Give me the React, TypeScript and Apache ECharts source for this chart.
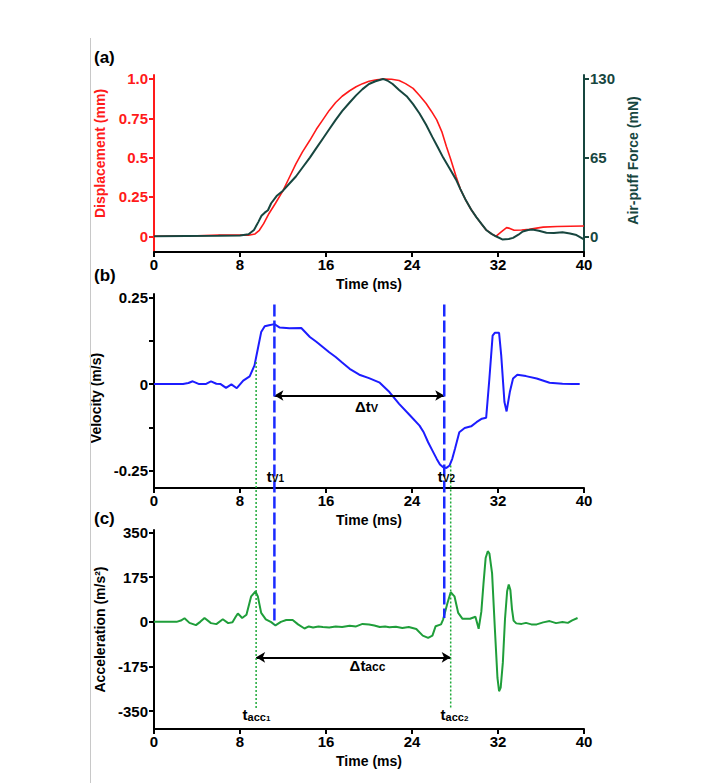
import React, { useEffect, useRef } from 'react';
import * as echarts from 'echarts';

// ---------- data (time in ms) ----------
const timeTicks = [0, 8, 16, 24, 32, 40];

const dispT = [0, 4, 6, 8, 8.8, 9.4, 9.8, 10.2, 10.7, 11.3, 12.0, 12.6, 13.2, 13.8, 14.5, 15.1, 15.7, 16.3, 16.9, 17.5, 18.2, 18.8, 19.4, 20.0, 20.7, 21.4, 22.1, 22.8, 23.4, 24.1, 24.7, 25.3, 25.8, 26.3, 26.8, 27.2, 27.6, 28.1, 28.5, 29.0, 29.5, 30.0, 30.5, 30.9, 31.4, 31.8, 32.3, 32.8, 33.1, 33.5, 34.2, 34.9, 35.6, 36.2, 37.5, 38.7, 40.0];
const dispMm = [0, 0.003, 0.008, 0.007, 0.006, 0.015, 0.038, 0.08, 0.145, 0.21, 0.29, 0.375, 0.46, 0.535, 0.61, 0.68, 0.74, 0.8, 0.85, 0.89, 0.925, 0.95, 0.97, 0.985, 0.995, 1.0, 0.998, 0.99, 0.97, 0.94, 0.895, 0.845, 0.795, 0.74, 0.66, 0.57, 0.49, 0.38, 0.3, 0.23, 0.17, 0.12, 0.075, 0.04, 0.015, 0.0, 0.028, 0.055, 0.05, 0.038, 0.04, 0.045, 0.052, 0.058, 0.062, 0.064, 0.065];

const forceT = [0, 3, 6, 8, 8.8, 9.3, 9.7, 10.0, 10.3, 10.6, 10.9, 11.4, 12.0, 12.6, 13.2, 13.8, 14.5, 15.1, 15.7, 16.3, 16.9, 17.5, 18.2, 18.8, 19.4, 20.0, 20.6, 21.3, 21.7, 22.2, 22.8, 23.5, 24.1, 24.7, 25.3, 25.9, 26.4, 26.9, 27.5, 28.1, 28.5, 29.0, 29.5, 30.0, 30.5, 30.9, 31.4, 31.8, 32.4, 33.0, 33.4, 33.9, 34.3, 34.8, 35.2, 35.8, 36.5, 37.2, 38.0, 38.7, 39.3, 40.0];
const forceMN = [0, 0.3, 0.4, 0.7, 1.6, 5.2, 11.7, 16.9, 19.5, 21.5, 27.3, 33.2, 37.7, 43.6, 49.4, 56.6, 65, 72.8, 80.6, 88.4, 96.2, 103.4, 110.5, 116.4, 121.6, 125.8, 128.1, 130, 128.7, 125.8, 120.9, 115.7, 109.2, 101.4, 92.3, 81.9, 73.5, 65, 55.9, 46.8, 39, 29.9, 22.1, 15.6, 9.8, 5.2, 2, 0, -2.6, -2.3, -1.3, 1.3, 3.9, 5.2, 5.6, 4.6, 2.9, 2.6, 3.3, 2.3, 1, -2.6];

const velT = [0, 2.7, 3.2, 3.6, 4.2, 4.8, 5.3, 5.8, 6.2, 6.7, 7.2, 7.7, 8.3, 8.9, 9.35, 9.66, 9.97, 10.3, 10.7, 11.2, 11.7, 12.6, 13.7, 14.5, 15.1, 15.7, 16.3, 16.9, 17.5, 18.2, 19.1, 20.0, 21.0, 21.9, 22.8, 23.8, 24.7, 25.1, 25.5, 25.9, 26.3, 26.6, 26.9, 27.2, 27.5, 27.75, 28.0, 28.4, 28.9, 29.5, 30.0, 30.5, 30.9, 31.2, 31.5, 31.7, 32.1, 32.3, 32.6, 32.8, 33.1, 33.4, 33.8, 34.6, 35.6, 36.8, 38.0, 38.9, 39.6];
const velMs = [0, 0, 0.003, 0.008, 0, 0, 0.008, 0.001, 0, -0.011, -0.001, -0.012, 0.01, 0.022, 0.054, 0.102, 0.15, 0.167, 0.17, 0.173, 0.163, 0.161, 0.162, 0.136, 0.122, 0.107, 0.092, 0.078, 0.062, 0.044, 0.027, 0.017, 0.004, -0.023, -0.057, -0.09, -0.12, -0.14, -0.168, -0.192, -0.216, -0.232, -0.24, -0.242, -0.235, -0.215, -0.187, -0.139, -0.127, -0.122, -0.11, -0.1, -0.097, 0.016, 0.14, 0.148, 0.148, 0.083, -0.052, -0.079, -0.023, 0.016, 0.027, 0.023, 0.016, 0.004, 0.001, 0, 0];

const accT = [0, 2.1, 2.5, 2.84, 3.3, 3.9, 4.3, 4.7, 5.3, 5.8, 6.4, 6.9, 7.3, 7.6, 7.8, 8.2, 8.6, 9.04, 9.44, 9.66, 9.97, 10.4, 10.9, 11.3, 11.8, 12.3, 12.9, 13.4, 14.0, 14.4, 14.8, 15.3, 15.7, 16.3, 16.9, 17.5, 18.2, 18.8, 19.4, 20.0, 20.5, 21.0, 21.5, 21.9, 22.5, 23.1, 23.7, 24.4, 25.0, 25.5, 25.9, 26.2, 26.7, 26.9, 27.3, 27.6, 27.95, 28.3, 28.7, 29.4, 29.9, 30.2, 30.45, 30.65, 30.85, 31.05, 31.2, 31.45, 31.7, 31.95, 32.1, 32.25, 32.45, 32.65, 32.85, 33.0, 33.15, 33.3, 33.45, 33.7, 34.2, 34.6, 35.1, 35.6, 36.2, 36.8, 37.4, 38.0, 38.5, 38.9, 39.4];
const accMs2 = [0, 0, 5, 14, -4, -13, 0, 15, -5, -9, 10, -5, -2, 20, 33, 15, 28, 100, 119, 100, 35, 10, -1, -14, 0, 7, 7, -10, -26, -18, -22, -18, -20, -22, -18, -20, -15, -18, -8, -10, -14, -20, -18, -21, -19, -24, -20, -28, -54, -63, -54, -17, -10, 10, 74, 116, 100, 35, 12, 12, 20, -27, 40, 150, 250, 277, 268, 190, -20, -220, -272, -258, -160, 10, 120, 146, 125, 50, 5, -6, -8, -4, -10, -10, -2, 3, -5, -1, -4, 6, 15];

// annotation times
const tV = [11.2, 27.0];
const tAcc = [9.5, 27.6];
const tVLineTopVel = 0.23;
const tVLineEndAcc = [-11, 15];
const tAccLineTopVel = [0.064, -0.235];
const tAccLineEndAcc = -342;
const dtVArrowVel = -0.033;
const dtAccArrowAcc = -139;

// tick values
const dispTicks = [0, 0.25, 0.5, 0.75, 1];
const forceTicks = [0, 65, 130];
const velTicks = [-0.25, -0.125, 0, 0.125, 0.25];
const velLabels = [-0.25, 0, 0.25];
const accTicks = [-350, -175, 0, 175, 350];

const RED = '#ff1a1a';
const TEAL = '#17463f';
const BLUE = '#1c1cff';
const GREEN = '#1f9e3a';
const FONT = '"Liberation Sans", Arial, Helvetica, sans-serif';

const zip = (t: number[], v: number[]) => t.map((x, i) => [x, v[i]]);

function xAxisCfg(gi: number) {
  return {
    gridIndex: gi,
    type: 'value',
    position: 'bottom',
    min: timeTicks[0],
    max: timeTicks[timeTicks.length - 1],
    interval: 8,
    axisLine: { show: true, onZero: false, lineStyle: { color: '#000', width: 2 } },
    axisTick: { show: true, length: 5, lineStyle: { color: '#000', width: 2 } },
    axisLabel: { color: '#000', fontSize: 15, fontWeight: 'bold', fontFamily: FONT, margin: 5 },
    splitLine: { show: false },
    name: 'Time (ms)',
    nameLocation: 'middle',
    nameGap: 25,
    nameTextStyle: { color: '#000', fontSize: 14, fontWeight: 'bold', fontFamily: FONT },
  };
}

function yAxisCfg(opts: any) {
  const { gi, min, max, ticks, labels, color, name, gap, position, fmt, pad } = opts;
  return {
    gridIndex: gi,
    type: 'value',
    position,
    min,
    max,
    axisLine: { show: true, onZero: false, lineStyle: { color, width: 2 } },
    axisTick: { show: true, length: 5, customValues: ticks, lineStyle: { color, width: 2 } },
    axisLabel: {
      customValues: labels,
      color,
      fontSize: 15,
      fontWeight: 'bold',
      fontFamily: FONT,
      margin: 6,
      formatter: fmt,
    },
    splitLine: { show: false },
    name,
    nameLocation: 'middle',
    nameGap: gap,
    nameRotate: 90,
    nameTextStyle: { color, fontSize: 14, fontWeight: 'bold', fontFamily: FONT, padding: pad },
  };
}

const option: any = {
  animation: false,
  backgroundColor: '#fff',
  grid: [
    { left: 154, width: 430, top: 75, height: 177 },
    { left: 154, width: 430, top: 294, height: 194 },
    { left: 154, width: 430, top: 530, height: 199 },
  ],
  xAxis: [xAxisCfg(0), xAxisCfg(1), xAxisCfg(2)],
  yAxis: [
    yAxisCfg({ gi: 0, min: -0.1, max: 1.025, ticks: dispTicks, labels: dispTicks, color: RED, name: 'Displacement (mm)', gap: 47, position: 'left', fmt: (v: number) => (v === 1 ? '1.0' : String(v)), pad: [0, 0, 0, 20] }),
    yAxisCfg({ gi: 0, min: -13, max: 133.25, ticks: forceTicks, labels: forceTicks, color: TEAL, name: 'Air-puff Force (mN)', gap: 38, position: 'right', fmt: (v: number) => String(v), pad: [0, 0, 0, 6] }),
    yAxisCfg({ gi: 1, min: -0.3, max: 0.26, ticks: velTicks, labels: velLabels, color: '#000', name: 'Velocity (m/s)', gap: 45, position: 'left', fmt: (v: number) => String(v), pad: [0, 14, 0, 0] }),
    yAxisCfg({ gi: 2, min: -420, max: 360, ticks: accTicks, labels: accTicks, color: '#000', name: 'Acceleration (m/s²)', gap: 45, position: 'left', fmt: (v: number) => String(v), pad: [0, 0, 0, 0] }),
  ],
  series: [
    {
      type: 'line', xAxisIndex: 0, yAxisIndex: 0, showSymbol: false, symbol: 'none',
      lineStyle: { color: RED, width: 1.6 }, data: zip(dispT, dispMm), z: 2,
    },
    {
      type: 'line', xAxisIndex: 0, yAxisIndex: 1, showSymbol: false, symbol: 'none',
      lineStyle: { color: TEAL, width: 2 }, data: zip(forceT, forceMN), z: 3,
    },
    {
      type: 'line', xAxisIndex: 1, yAxisIndex: 2, showSymbol: false, symbol: 'none',
      lineStyle: { color: BLUE, width: 2 }, data: zip(velT, velMs),
      markLine: {
        silent: true, symbol: ['arrow', 'arrow'], symbolSize: [8, 9],
        label: { show: false }, lineStyle: { color: '#000', width: 2, type: 'solid' },
        emphasis: { disabled: true },
        data: [[{ coord: [tV[0], dtVArrowVel] }, { coord: [tV[1], dtVArrowVel] }]],
      },
    },
    {
      type: 'line', xAxisIndex: 2, yAxisIndex: 3, showSymbol: false, symbol: 'none',
      lineStyle: { color: GREEN, width: 2 }, data: zip(accT, accMs2),
      markLine: {
        silent: true, symbol: ['arrow', 'arrow'], symbolSize: [8, 9],
        label: { show: false }, lineStyle: { color: '#000', width: 2, type: 'solid' },
        emphasis: { disabled: true },
        data: [[{ coord: [tAcc[0], dtAccArrowAcc] }, { coord: [tAcc[1], dtAccArrowAcc] }]],
      },
    },
  ],
};

function richLabel(x: number, y: number, parts: [string, number][]) {
  const rich: any = {};
  let text = '';
  parts.forEach(([s, size], i) => {
    const key = 'p' + i;
    const isMain = i === 0;
    rich[key] = {
      fontSize: size,
      fontWeight: 'bold',
      fontFamily: FONT,
      fill: '#000',
      color: '#000',
      verticalAlign: 'bottom',
      lineHeight: isMain ? 16 : size - 2,
    };
    text += `{${key}|${s}}`;
  });
  return {
    type: 'text', x, y, z: 30,
    style: {
      text, rich, fill: '#000',
      align: 'center', verticalAlign: 'middle',
      textAlign: 'center', textVerticalAlign: 'middle',
    },
  };
}

export default function App() {
  const ref = useRef<HTMLDivElement>(null);
  useEffect(() => {
    document.body.style.margin = '0';
    const chart = echarts.init(ref.current!, null, { renderer: 'svg' });
    chart.setOption(option);
    const p = (si: number, t: number, v: number) => chart.convertToPixel({ seriesIndex: si }, [t, v]) as number[];

    const g: any[] = [];
    g.push({ type: 'line', shape: { x1: 90.5, y1: 38, x2: 90.5, y2: 783 }, style: { stroke: '#c8c8c8', lineWidth: 1 }, z: 1 });
    const panel = (txt: string, y: number) => ({
      type: 'text', x: 94, y, z: 30,
      style: { text: txt, font: `bold 17px ${FONT}`, fill: '#000', align: 'left', verticalAlign: 'middle', textAlign: 'left', textVerticalAlign: 'middle' },
    });
    g.push(panel('(a)', 57), panel('(b)', 275), panel('(c)', 518));

    tAcc.forEach((t, i) => {
      const a = p(2, t, tAccLineTopVel[i]);
      const b = p(3, t, tAccLineEndAcc);
      g.push({ type: 'line', z: 20, shape: { x1: a[0], y1: a[1], x2: b[0], y2: b[1] }, style: { stroke: '#1faa3a', lineWidth: 1.5, lineDash: [2, 2] } });
    });
    tV.forEach((t, i) => {
      const a = p(2, t, tVLineTopVel);
      const b = p(3, t, tVLineEndAcc[i]);
      g.push({ type: 'line', z: 21, shape: { x1: a[0], y1: a[1], x2: b[0], y2: b[1] }, style: { stroke: '#1a2aff', lineWidth: 2.5, lineDash: [12, 4] } });
    });

    const l1 = p(2, 11.3, -0.264);
    const l2 = p(2, 27.2, -0.264);
    g.push(richLabel(l1[0], l1[1], [['t', 15], ['V1', 10]]));
    g.push(richLabel(l2[0], l2[1], [['t', 15], ['V2', 10]]));
    const d1 = p(2, 19.77, -0.062);
    g.push(richLabel(d1[0], d1[1], [['Δt', 15], ['V', 11]]));
    const d2 = p(3, 19.86, -171);
    g.push(richLabel(d2[0], d2[1], [['Δt', 15], ['acc', 12]]));
    const a1 = p(3, 9.53, -362);
    const a2 = p(3, 27.95, -362);
    g.push(richLabel(a1[0], a1[1], [['t', 15], ['acc', 11], ['1', 8]]));
    g.push(richLabel(a2[0], a2[1], [['t', 15], ['acc', 11], ['2', 8]]));

    chart.setOption({ graphic: g });
    return () => chart.dispose();
  }, []);
  return <div ref={ref} style={{ width: 718, height: 783, position: 'absolute', left: 0, top: 0, overflow: 'hidden' }} />;
}
